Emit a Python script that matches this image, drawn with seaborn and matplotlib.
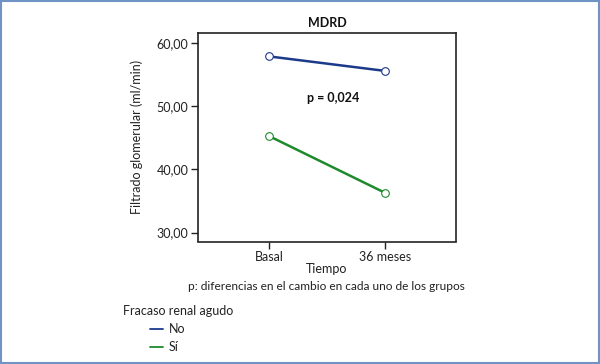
import pandas as pd
import matplotlib.pyplot as plt
import seaborn as sns
from matplotlib.lines import Line2D
from matplotlib.patches import Rectangle

# data
tiempo = ["Basal", "36 meses"]
grupos = ["No", "Sí"]
filtrado_no = [57.9, 55.6]
filtrado_si = [45.3, 36.3]
colores = {"No": "#1c3a8c", "Sí": "#1e8a2c"}

df = pd.DataFrame({
    "Tiempo": tiempo * 2,
    "pos": [0, 1] * 2,
    "grupo": [grupos[0]] * 2 + [grupos[1]] * 2,
    "filtrado": filtrado_no + filtrado_si,
})

sns.set_style("white")
plt.rcParams["font.family"] = ["Lato", "DejaVu Sans"]
fs = 9

fig = plt.figure(figsize=(6, 3.64), dpi=100)
ax = fig.add_axes([198 / 600, 1 - 241.5 / 364, 258 / 600, 208.5 / 364])

sns.lineplot(data=df, x="pos", y="filtrado", hue="grupo", palette=colores,
             marker="o", markersize=5.5, linewidth=1.8, legend=False, ax=ax)
# open circle markers in the line colour
for line in ax.get_lines():
    line.set_markerfacecolor("white")
    line.set_markeredgecolor(line.get_color())
    line.set_markeredgewidth(0.8)

ax.set_xlim(-0.61, 1.61)
ax.set_ylim(28.6, 61.6)
ax.set_xticks([0, 1])
ax.set_xticklabels(tiempo)
ax.set_yticks([30, 40, 50, 60])
ax.set_yticklabels(["30,00", "40,00", "50,00", "60,00"])
ax.tick_params(axis="both", length=5, width=1, color="#222222", labelsize=fs,
               labelcolor="#222222", pad=2, left=True, bottom=True)
for s in ax.spines.values():
    s.set_color("#222222")
    s.set_linewidth(1.2)

ax.set_xlabel("Tiempo", fontsize=fs, color="#222222", labelpad=0)
ax.set_ylabel("Filtrado glomerular (ml/min)", fontsize=fs, color="#222222", labelpad=10)
ax.set_title("MDRD", fontsize=fs, fontweight="bold", color="#111111", pad=4)

ax.text(0.55, 51.3, "p = 0,024", ha="center", va="center", fontsize=fs,
        fontweight="bold", color="#111111")

fig.text(326 / 600, 1 - 287 / 364, "p: diferencias en el cambio en cada uno de los grupos",
         ha="center", va="center", fontsize=8.6, color="#222222")

# legend drawn below the figure
fig.text(123 / 600, 1 - 311 / 364, "Fracaso renal agudo", ha="left", va="center",
         fontsize=fs, color="#222222")
for i, g in enumerate(grupos):
    yy = 1 - (329 + 18 * i) / 364
    fig.add_artist(Line2D([150 / 600, 163 / 600], [yy, yy], color=colores[g],
                          linewidth=1.3, transform=fig.transFigure))
    fig.text(169 / 600, yy, g, ha="left", va="center", fontsize=fs, color="#222222")

# outer frame
fig.add_artist(Rectangle((0.001, 0.002), 0.997, 0.995, transform=fig.transFigure,
                         fill=False, edgecolor="#6f93c4", linewidth=1.5))

fig.savefig("out.png", dpi=100)
